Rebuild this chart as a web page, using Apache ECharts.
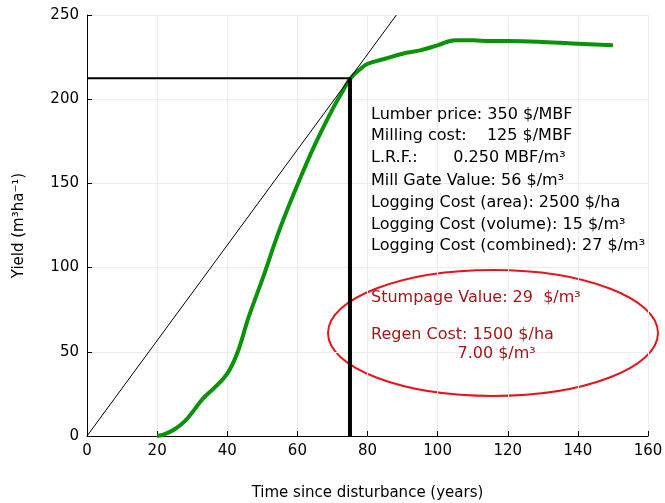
<!DOCTYPE html><html><head><meta charset="utf-8"><script src="https://cdn.jsdelivr.net/npm/echarts@6/dist/echarts.min.js"></script>
<style>body{margin:0}#c{width:665px;height:503px}</style></head><body><div id="c"></div><script>
const curveX=[20,22,25,28,30,33,36,40,43,46,50,55,60,65,70,73,75,78,80,85,90,95,100,105,110,115,120,130,140,150];
const curveY=[0,1,4,9,14,22,28,37,50,70,93,123,149,173,194,205,212,218,221,224,227,229,232,235,235,234.5,234.5,234,233,232];
const optX=75, optY=212.5;
const infoLines=['Lumber price: 350 $/MBF','Milling cost:    125 $/MBF','L.R.F.:       0.250 MBF/m³','Mill Gate Value: 56 $/m³','Logging Cost (area): 2500 $/ha','Logging Cost (volume): 15 $/m³','Logging Cost (combined): 27 $/m³'];
const redLines=['Stumpage Value: 29  $/m³','Regen Cost: 1500 $/ha','                 7.00 $/m³'];
const F='DejaVu Sans';
const ch=echarts.init(document.getElementById('c'));
const g=[];
const iy=[117,138,160,183,205,227,248];
infoLines.forEach((t,i)=>g.push({type:'text',left:371,top:iy[i]-10,z:100,style:{text:t,font:'16px '+F,fill:'#000'}}));
const ry=[300,337,356];
redLines.forEach((t,i)=>g.push({type:'text',left:371,top:ry[i]-10,z:100,style:{text:t,font:'16px '+F,fill:'#a01818'}}));
g.push({type:'ellipse',shape:{cx:493,cy:333,rx:165,ry:63},style:{fill:'none',stroke:'#e8141c',lineWidth:2}});
ch.setOption({animation:false,
grid:{left:87,right:17,top:15,bottom:67,outerBoundsMode:'none',containLabel:false},
xAxis:{type:'value',min:0,max:160,interval:20,name:'Time since disturbance (years)',nameLocation:'middle',nameGap:50,nameTextStyle:{fontFamily:F,fontSize:15,color:'#000'},
axisLine:{lineStyle:{color:'#000'}},axisTick:{show:true,inside:true,lineStyle:{color:'#000'}},axisLabel:{fontFamily:F,fontSize:15,color:'#000'},splitLine:{lineStyle:{color:'#ececec'}}},
yAxis:{type:'value',min:0,max:250,interval:50,name:'Yield (m³ha⁻¹)',nameLocation:'middle',nameGap:60,nameTextStyle:{fontFamily:F,fontSize:15,color:'#000'},
axisLine:{show:true,lineStyle:{color:'#000'}},axisTick:{show:true,inside:true,lineStyle:{color:'#000'}},axisLabel:{fontFamily:F,fontSize:15,color:'#000'},splitLine:{lineStyle:{color:'#ececec'}}},
series:[
{type:'line',data:curveX.map((x,i)=>[x,curveY[i]]),smooth:0.4,symbol:'none',lineStyle:{color:'#0a930a',width:4},z:3},
{type:'line',data:[[0,0],[optX*250/optY,250]],symbol:'none',lineStyle:{color:'#000',width:1}},
{type:'line',data:[[0,optY],[optX,optY]],symbol:'none',lineStyle:{color:'#000',width:2}},
{type:'line',data:[[optX,0],[optX,optY]],symbol:'none',lineStyle:{color:'#000',width:4}}
],graphic:g});
</script></body></html>
